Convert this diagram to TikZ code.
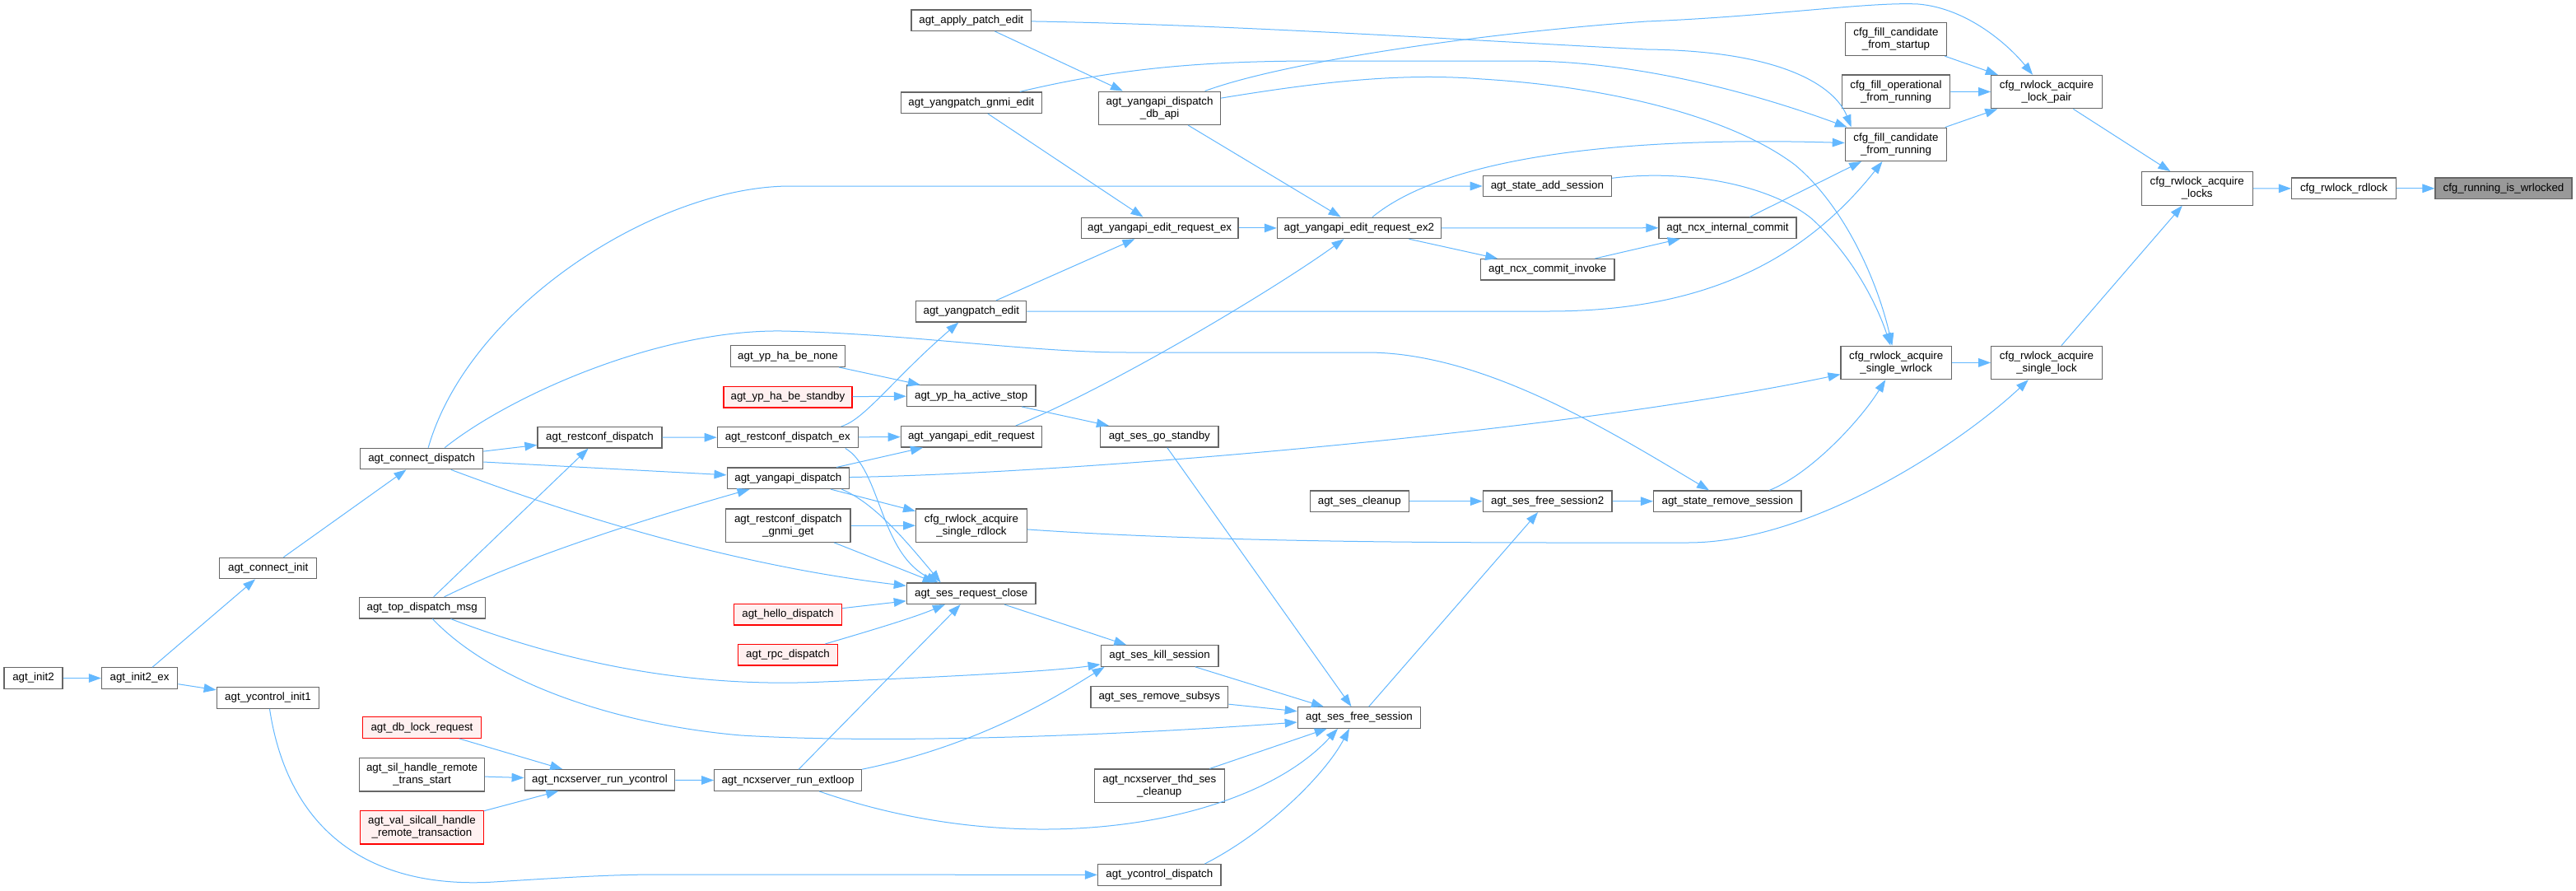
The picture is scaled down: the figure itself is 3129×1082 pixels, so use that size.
\documentclass[tikz,border=0pt]{standalone}
\usepackage{fontspec}
\setmainfont{Liberation Sans}
\usetikzlibrary{arrows.meta,calc}
\definecolor{edgeblue}{HTML}{63B8FF}
\definecolor{nodeborder}{HTML}{666666}
\definecolor{borderred}{HTML}{FF0000}
\definecolor{fillred}{HTML}{FFF0F0}
\definecolor{fillgray}{HTML}{999999}
\tikzset{
  fn/.style={draw=nodeborder, fill=white, line width=0.6pt, inner sep=0pt,
    font=\fontsize{6.67pt}{7.5pt}\selectfont, align=center, minimum height=12.75pt},
  fntwo/.style={fn, minimum height=20.2pt},
  callred/.style={draw=borderred, fill=fillred},
  callgray/.style={fill=fillgray},
  e/.style={draw=edgeblue, line width=0.5pt, -{Triangle[length=7.5pt,width=5.3pt]}}
}
\begin{document}
\begin{tikzpicture}[x=0.5pt,y=-0.5pt]
\useasboundingbox (0,0) rectangle (3129,1082);
\fill[white] (0,0) rectangle (3129,1082);
% nodes
\node[fn, minimum width=35.5pt] (init2) at (40.5,823.5) {agt\_init2};
\node[fn, minimum width=46.15pt] (init2ex) at (169.6,823.5) {agt\_init2\_ex};
\node[fn, minimum width=59pt] (connectinit) at (325.7,690) {agt\_connect\_init};
\node[fn, minimum width=62.25pt] (ycinit1) at (325.5,847.5) {agt\_ycontrol\_init1};
\node[fn, minimum width=74.5pt] (connectdisp) at (512.2,557) {agt\_connect\_dispatch};
\node[fn, minimum width=76.5pt] (topdisp) at (512.7,738.2) {agt\_top\_dispatch\_msg};
\node[fn, callred, minimum width=71.7pt] (dblock) at (512.5,883.6) {agt\_db\_lock\_request};
\node[fntwo, minimum width=75.8pt] (silhandle) at (512.5,940.8) {agt\_sil\_handle\_remote\\\_trans\_start};
\node[fntwo, callred, minimum width=74.7pt] (valsil) at (512.5,1004.8) {agt\_val\_silcall\_handle\\\_remote\_transaction};
\node[fn, minimum width=91.3pt] (runyc) at (728.5,947.3) {agt\_ncxserver\_run\_ycontrol};
\node[fn, minimum width=75.5pt] (restdisp) at (728.5,531.3) {agt\_restconf\_dispatch};
\node[fn, minimum width=72.75pt] (applypatch) at (1179.8,24.7) {agt\_apply\_patch\_edit};
\node[fn, minimum width=85.5pt] (gnmiedit) at (1179.8,124.7) {agt\_yangpatch\_gnmi\_edit};
\node[fntwo, minimum width=74pt] (dbapi) at (1408.6,131.3) {agt\_yangapi\_dispatch\\\_db\_api};
\node[fn, minimum width=95.4pt] (editreqex) at (1408.6,276.9) {agt\_yangapi\_edit\_request\_ex};
\node[fn, minimum width=67pt] (ypedit) at (1179.8,378.2) {agt\_yangpatch\_edit};
\node[fn, minimum width=69.35pt] (hanone) at (957,432.6) {agt\_yp\_ha\_be\_none};
\node[fn, callred, minimum width=78pt] (hastandby) at (957,482.2) {agt\_yp\_ha\_be\_standby};
\node[fn, minimum width=78.3pt] (hastop) at (1179.7,480.6) {agt\_yp\_ha\_active\_stop};
\node[fn, minimum width=85.5pt] (restdispex) at (956.8,531.1) {agt\_restconf\_dispatch\_ex};
\node[fn, minimum width=85.5pt] (editreq) at (1179.8,530.3) {agt\_yangapi\_edit\_request};
\node[fn, minimum width=71.7pt] (gostandby) at (1408.3,530.3) {agt\_ses\_go\_standby};
\node[fn, minimum width=74.2pt] (yadisp) at (957.3,580.8) {agt\_yangapi\_dispatch};
\node[fntwo, minimum width=75.75pt] (gnmiget) at (957.3,638.2) {agt\_restconf\_dispatch\\\_gnmi\_get};
\node[fntwo, minimum width=67.4pt] (rdlockS) at (1180,638.2) {cfg\_rwlock\_acquire\\\_single\_rdlock};
\node[fn, minimum width=78.35pt] (reqclose) at (1179.7,720.8) {agt\_ses\_request\_close};
\node[fn, callred, minimum width=65.3pt] (hello) at (957,746.2) {agt\_hello\_dispatch};
\node[fn, callred, minimum width=60.75pt] (rpc) at (957,795.3) {agt\_rpc\_dispatch};
\node[fn, minimum width=71.4pt] (kill) at (1408.6,796.5) {agt\_ses\_kill\_session};
\node[fn, minimum width=83.4pt] (remsub) at (1408.3,846.5) {agt\_ses\_remove\_subsys};
\node[fn, minimum width=74.75pt] (free) at (1651,871.5) {agt\_ses\_free\_session};
\node[fn, minimum width=89.25pt] (extloop) at (957,947.6) {agt\_ncxserver\_run\_extloop};
\node[fntwo, minimum width=78.85pt] (thd) at (1408.3,954.2) {agt\_ncxserver\_thd\_ses\\\_cleanup};
\node[fn, minimum width=74.75pt] (ycdisp) at (1408.3,1062.4) {agt\_ycontrol\_dispatch};
\node[fntwo, minimum width=61.7pt] (fcstart) at (2303,47.3) {cfg\_fill\_candidate\\\_from\_startup};
\node[fntwo, minimum width=65.7pt] (foper) at (2303,111.2) {cfg\_fill\_operational\\\_from\_running};
\node[fntwo, minimum width=61.7pt] (fcrun) at (2303,175.3) {cfg\_fill\_candidate\\\_from\_running};
\node[fn, minimum width=78.1pt] (addsess) at (1879.4,226) {agt\_state\_add\_session};
\node[fn, minimum width=99.5pt] (ex2) at (1650.9,276.9) {agt\_yangapi\_edit\_request\_ex2};
\node[fn, minimum width=83.5pt] (intcommit) at (2098.5,276.7) {agt\_ncx\_internal\_commit};
\node[fn, minimum width=81.35pt] (cinvoke) at (1879.7,327.3) {agt\_ncx\_commit\_invoke};
\node[fntwo, minimum width=67.15pt] (wrlock) at (2303.2,440.4) {cfg\_rwlock\_acquire\\\_single\_wrlock};
\node[fn, minimum width=60.2pt] (cleanup) at (1651.3,608.7) {agt\_ses\_cleanup};
\node[fn, minimum width=78.35pt] (free2) at (1879.7,608.7) {agt\_ses\_free\_session2};
\node[fn, minimum width=89.75pt] (remsess) at (2098.3,608.7) {agt\_state\_remove\_session};
\node[fntwo, minimum width=67.25pt] (lockpair) at (2486,111.6) {cfg\_rwlock\_acquire\\\_lock\_pair};
\node[fntwo, minimum width=67.5pt] (locks) at (2668.7,228.9) {cfg\_rwlock\_acquire\\\_locks};
\node[fn, minimum width=63.5pt] (rdlock) at (2847,228.8) {cfg\_rwlock\_rdlock};
\node[fn, callgray, minimum width=83pt] (wrlocked) at (3041,228.8) {cfg\_running\_is\_wrlocked};
\node[fntwo, minimum width=67.25pt] (singlelock) at (2486,440.4) {cfg\_rwlock\_acquire\\\_single\_lock};
% edges
\draw[e] (init2) -- (init2ex);
\draw[e] (init2ex) -- (connectinit);
\draw[e] (init2ex) -- (ycinit1);
\draw[e] (connectinit) -- (connectdisp);
\draw[e] (ycinit1) .. controls (350,1010) and (450,1080) .. (600,1071) .. controls (680,1066) and (740,1062) .. (800,1062) -- (ycdisp);
\draw[e] (connectdisp) -- (restdisp);
\draw[e] (connectdisp) -- (yadisp);
\draw[e] (connectdisp) .. controls (680,620) and (880,685) .. (reqclose);
\draw[e] ($(connectdisp.north)+(8,0)$) .. controls (570,370) and (800,226) .. (960,226) -- (addsess);
\draw[e] ($(connectdisp.north)+(28,0)$) .. controls (620,480) and (800,400) .. (950,402) .. controls (1100,405) and (1250,428) .. (1370,428) -- (1660,428) .. controls (1800,428) and (1950,520) .. (remsess);
\draw[e] (topdisp) -- (restdisp);
\draw[e] (topdisp) .. controls (650,670) and (820,620) .. (yadisp);
\draw[e] (topdisp) .. controls (700,810) and (850,835) .. (1000,828) .. controls (1150,822) and (1280,815) .. (kill);
\draw[e] (topdisp) .. controls (600,830) and (750,880) .. (900,893) .. controls (1100,905) and (1400,890) .. (free);
\draw[e] (restdisp) -- (restdispex);
\draw[e] ($(restdispex.north)+(65,0)$) .. controls (1050,510) and (1085,460) .. (ypedit);
\draw[e] (restdispex) -- (editreq);
\draw[e] ($(restdispex.south)+(70,0)$) .. controls (1070,570) and (1068,670) .. ($(reqclose.north)+(-40,0)$);
\draw[e] (yadisp) -- (editreq);
\draw[e] (yadisp) -- (rdlockS);
\draw[e] ($(yadisp.south)+(65,0)$) .. controls (1060,610) and (1095,650) .. ($(reqclose.north)+(-37,0)$);
\draw[e] (yadisp) .. controls (1300,575) and (1900,525) .. (wrlock);
\draw[e] (gnmiget) -- (rdlockS);
\draw[e] ($(gnmiget.south)+(56,0)$) -- ($(reqclose.north)+(-44,0)$);
\draw[e] (hello) -- (reqclose);
\draw[e] (rpc) .. controls (1060,765) and (1110,750) .. (reqclose);
\draw[e] (reqclose) -- (kill);
\draw[e] (extloop) -- (reqclose);
\draw[e] (extloop.north east) .. controls (1190,905) and (1285,845) .. ($(kill.south west)+(5,0)$);
\draw[e] (extloop) .. controls (1250,1050) and (1520,1000) .. ($(free.south)+(-26,0)$);
\draw[e] (runyc) -- (extloop);
\draw[e] (dblock) -- (runyc);
\draw[e] (silhandle) -- (runyc);
\draw[e] (valsil) -- (runyc);
\draw[e] (kill) -- (free);
\draw[e] (remsub) -- (free);
\draw[e] (thd) -- (free);
\draw[e] ($(ycdisp.north)+(55,0)$) .. controls (1540,1010) and (1610,940) .. ($(free.south)+(-12,0)$);
\draw[e] (gostandby) -- (free);
\draw[e] (free) -- (free2);
\draw[e] (cleanup) -- (free2);
\draw[e] (free2) -- (remsess);
\draw[e] ($(remsess.north)+(51,0)$) .. controls (2200,575) and (2260,510) .. (wrlock);
\draw[e] (rdlockS) .. controls (1450,657) and (1700,659) .. (1900,659) -- (2050,659) .. controls (2200,659) and (2380,540) .. (singlelock);
\draw[e] (wrlock) -- (singlelock);
\draw[e] (singlelock) -- (locks);
\draw[e] (lockpair) -- (locks);
\draw[e] (locks) -- (rdlock);
\draw[e] (rdlock) -- (wrlocked);
\draw[e] (fcstart) -- (lockpair);
\draw[e] (foper) -- (lockpair);
\draw[e] (fcrun) -- (lockpair);
\draw[e] ($(dbapi.north)+(55,0)$) .. controls (1560,75) and (1800,40) .. (2000,26) .. controls (2150,20) and (2270,2) .. (2330,5) .. controls (2390,10) and (2440,55) .. (lockpair);
\draw[e] (applypatch) -- (dbapi);
\draw[e] (applypatch) .. controls (1500,30) and (1800,50) .. (2000,60) .. controls (2180,62) and (2232,112) .. ($(fcrun.north west)+(8,0)$);
\draw[e] ($(gnmiedit.north)+(59,0)$) .. controls (1350,85) and (1450,74) .. (1600,74) -- (1850,74) .. controls (2000,74) and (2150,120) .. ($(fcrun.north west)+(3,0)$);
\draw[e] (gnmiedit) -- (editreqex);
\draw[e] (dbapi) -- (ex2);
\draw[e] (dbapi) .. controls (1600,100) and (1700,88) .. (1800,96) .. controls (1950,105) and (2100,140) .. (2180,200) .. controls (2240,250) and (2280,340) .. (wrlock);
\draw[e] (ex2) .. controls (1750,195) and (1950,165) .. (fcrun);
\draw[e] (addsess) .. controls (2050,205) and (2150,225) .. (2200,265) .. controls (2250,310) and (2280,370) .. (wrlock);
\draw[e] (ex2) -- (intcommit);
\draw[e] (ex2) -- (cinvoke);
\draw[e] (cinvoke) -- (intcommit);
\draw[e] (intcommit) -- (fcrun);
\draw[e] (ypedit) -- (1880,378) .. controls (2050,378) and (2180,330) .. (fcrun);
\draw[e] (editreqex) -- (ex2);
\draw[e] (ypedit) -- (editreqex);
\draw[e] ($(editreq.north)+(54,0)$) .. controls (1350,470) and (1550,350) .. (ex2);
\draw[e] (hanone) -- (hastop);
\draw[e] (hastandby) -- (hastop);
\draw[e] (hastop) -- (gostandby);
\end{tikzpicture}
\end{document}
